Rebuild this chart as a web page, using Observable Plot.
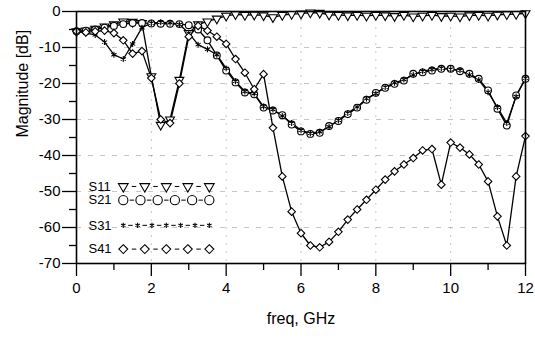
<!DOCTYPE html>
<html><head><meta charset="utf-8">
<script src="https://cdn.jsdelivr.net/npm/d3@7"></script>
<script src="https://cdn.jsdelivr.net/npm/@observablehq/plot@0.6"></script>
<style>
html,body{margin:0;padding:0;background:#fff}
</style>
</head><body><div id="chart"></div>
<script>
// ---- data ----
const freq = [0,0.25,0.5,0.75,1,1.25,1.5,1.75,2,2.25,2.5,2.75,3,3.25,3.5,3.75,4,4.25,4.5,4.75,5,5.25,5.5,5.75,6,6.25,6.5,6.75,7,7.25,7.5,7.75,8,8.25,8.5,8.75,9,9.25,9.5,9.75,10,10.25,10.5,10.75,11,11.25,11.5,11.75,12];
const s11 = [-5.5,-5.3,-4.8,-4.2,-3.6,-2.8,-2.9,-3.2,-18,-31.5,-30,-19,-6,-3.6,-2.8,-2.0,-1.2,
  -0.8,-1.0,-0.9,-1.1,-1.6,-1.0,-0.7,-0.6,-0.3,-0.4,-0.9,-1.0,-1.1,-1.0,-1.2,-1.0,-1.1,-1.3,-1.0,-1.4,-1.2,-1.0,-1.3,-1.2,-1.4,-1.1,-1.0,-1.2,-0.9,-0.8,-0.7,-0.5];
const s21 = [-5.5,-5.3,-5.0,-4.5,-4.0,-3.5,-3.2,-3.2,-3.3,-3.4,-3.4,-3.5,-3.8,-5.0,-8.0,-12.2,-16.4,-19.7,-22.5,-23.0,-26.7,-27.5,-28.8,-31.4,-33.3,-34.0,-33.7,-31.8,-30.4,-28.5,-26.7,-24.5,-22.6,-21.2,-20.1,-19.2,-17.3,-16.9,-16.4,-15.9,-15.9,-16.6,-17.3,-18.7,-21.9,-27.0,-31.7,-23.3,-18.7];
const s31 = [-5.5,-6.0,-6.5,-8.5,-12.0,-13.2,-9.0,-4.5,-3.2,-3.0,-3.1,-3.6,-6.0,-9.2,-10.5,-12.0,-15.8,-19.4,-22.2,-22.8,-26.4,-27.2,-29.0,-31.0,-33.0,-33.8,-33.4,-32.0,-30.2,-28.2,-26.5,-24.2,-22.8,-21.0,-19.8,-18.9,-17.6,-16.6,-16.1,-15.7,-16.0,-16.3,-17.6,-19.0,-22.4,-26.6,-31.0,-23.6,-18.5];
const s41 = [-5.5,-5.8,-5.5,-5.3,-6.0,-8.0,-11.7,-11.0,-18.5,-30.0,-31.0,-20.0,-7.0,-4.0,-5.3,-7.0,-9.0,-13.2,-17.0,-21.6,-17.4,-32.3,-45.8,-55.6,-61.6,-65.0,-65.5,-64.0,-61.2,-57.8,-55.0,-52.3,-49.5,-46.7,-44.4,-42.5,-40.7,-38.6,-38.2,-48.1,-36.4,-37.8,-39.7,-42.5,-47.2,-56.9,-65.0,-45.8,-34.6];
const seriesNames = ["S11","S21","S31","S41"];
const legendMarkerCounts = [5,6,7,5];
const yTicks = [0,-10,-20,-30,-40,-50,-60,-70];
const yMinorTicks = [-5,-15,-25,-35,-45,-55,-65];
const xTicks = [0,2,4,6,8,10,12];
const xMinorTicks = [1,3,5,7,9,11];

// ---- styling / layout (not data) ----
const seriesValues = [s11, s21, s31, s41];
const symbolStyle = {
  S11: {symbol: "triangle", r: 3.3, rotate: 180, lr: 3.6},
  S21: {symbol: "circle", r: 3.4, rotate: 0, lr: 4.6},
  S31: {symbol: "asterisk", r: 2.8, rotate: 0, lr: 2.4},
  S41: {symbol: "diamond2", r: 3.4, rotate: 0, lr: 4.0}
};
const legendRowY = [-48.6, -52.4, -59.4, -66.0];
const legendTextX = 0.32, legendSymStart = 1.25, legendSymEnd = 3.55;

const rows = seriesNames.flatMap((name, k) => freq.map((f, i) => ({series: name, f, v: seriesValues[k][i]})));

const legendDots = [], legendDashes = [];
seriesNames.forEach((name, k) => {
  const n = legendMarkerCounts[k];
  const step = (legendSymEnd - legendSymStart) / (n - 1);
  for (let j = 0; j < n; j++) {
    legendDots.push({series: name, x: legendSymStart + j * step, y: legendRowY[k]});
    if (j < n - 1) {
      const mid = legendSymStart + (j + 0.5) * step;
      legendDashes.push({x1: mid - 0.06, x2: mid + 0.06, y: legendRowY[k]});
    }
  }
});
const legendText = seriesNames.map((name, k) => ({name, x: legendTextX, y: legendRowY[k]}));

const marks = [
  Plot.gridY(yTicks.filter(d => d > -70 && d < 0), {stroke: "black", strokeOpacity: 0.22, strokeDasharray: "5,7"}),
  Plot.gridX(xTicks.filter(d => d > 0 && d < 12), {stroke: "black", strokeOpacity: 0.22, strokeDasharray: "2,6"}),
  Plot.axisY(yTicks, {tickSize: 14, tickPadding: 2, tickFormat: d => String(d), label: null, strokeWidth: 1.3, fontSize: 15}),
  Plot.axisY(yMinorTicks, {tickSize: 7, fill: "none", label: null, strokeWidth: 1.3}),
  Plot.axisX(xTicks, {tickSize: 13, tickPadding: 6, tickFormat: d => String(d), label: null, strokeWidth: 1.3, fontSize: 15}),
  Plot.axisX(xMinorTicks, {tickSize: 7, fill: "none", label: null, strokeWidth: 1.3}),
  Plot.line(rows, {x: "f", y: "v", z: "series", stroke: "black", strokeWidth: 1.3}),
];
for (const name of seriesNames) {
  const st = symbolStyle[name];
  marks.push(Plot.dot(rows.filter(d => d.series === name), {x: "f", y: "v", symbol: st.symbol, r: st.r, rotate: st.rotate, stroke: "black", fill: "white", strokeWidth: 1.1}));
}
marks.push(Plot.frame({stroke: "black", strokeWidth: 1.6}));
// legend
marks.push(Plot.link(legendDashes, {x1: "x1", x2: "x2", y1: "y", y2: "y", stroke: "black", strokeWidth: 1}));
for (const name of seriesNames) {
  const st = symbolStyle[name];
  marks.push(Plot.dot(legendDots.filter(d => d.series === name), {x: "x", y: "y", symbol: st.symbol, r: st.lr, rotate: st.rotate, stroke: "black", fill: "white", strokeWidth: 1.1}));
}
marks.push(Plot.text(legendText, {x: "x", y: "y", text: "name", textAnchor: "start", fontSize: 13}));
// axis titles
marks.push(Plot.text(["Magnitude [dB]"], {text: d => d, frameAnchor: "left", dx: -54, rotate: -90, fontSize: 16}));
marks.push(Plot.text(["freq, GHz"], {text: d => d, frameAnchor: "bottom", dy: 60, fontSize: 16}));

const chart = Plot.plot({
  width: 535, height: 343,
  marginLeft: 76, marginRight: 10, marginTop: 11, marginBottom: 80,
  x: {domain: [0, 12]},
  y: {domain: [-70, 0]},
  style: {fontFamily: "'Liberation Sans', Arial, sans-serif", fontSize: "14px", background: "white", color: "black", overflow: "visible"},
  marks
});
document.getElementById("chart").append(chart);
</script>
</body></html>
